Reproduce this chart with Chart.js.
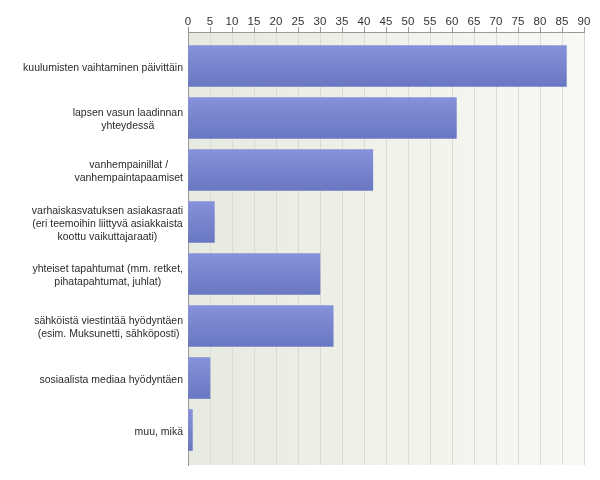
<!DOCTYPE html>
<html>
<head>
<meta charset="utf-8">
<script src="https://cdn.jsdelivr.net/npm/chart.js@4/dist/chart.umd.min.js"></script>
<style>
  html, body { margin: 0; padding: 0; background: #fff; }
  #wrap { width: 600px; height: 480px; }
</style>
</head>
<body>
<div id="wrap"><canvas id="answersChart"></canvas></div>
<script>
const categories = [
    ['kuulumisten vaihtaminen päivittäin'],
    ['lapsen vasun laadinnan', 'yhteydessä'],
    ['vanhempainillat /', 'vanhempaintapaamiset'],
    ['varhaiskasvatuksen asiakasraati', '(eri teemoihin liittyvä asiakkaista', 'koottu vaikuttajaraati)'],
    ['yhteiset tapahtumat (mm. retket,', 'pihatapahtumat, juhlat)'],
    ['sähköistä viestintää hyödyntäen', '(esim. Muksunetti, sähköposti)'],
    ['sosiaalista mediaa hyödyntäen'],
    ['muu, mikä']
];
const answers = [86, 61, 42, 6, 30, 33, 5, 1];
const xTicks = [0, 5, 10, 15, 20, 25, 30, 35, 40, 45, 50, 55, 60, 65, 70, 75, 80, 85, 90];

const FONT = '"Liberation Sans", Arial, sans-serif';

// taustan liukuväri piirtoalueelle
const plotBackground = {
    id: 'plotBackground',
    beforeDraw(chart) {
        const { ctx, chartArea: a } = chart;
        const g = ctx.createLinearGradient(a.left, 0, a.right, 0);
        g.addColorStop(0, '#e7eae0');
        g.addColorStop(1, '#f8f9f5');
        ctx.save();
        ctx.fillStyle = g;
        ctx.fillRect(a.left, a.top, a.right - a.left, a.bottom - a.top);
        ctx.restore();
    }
};

// kategorianimet keskitettyinä riveittäin, lohko oikealle tasattuna
const categoryLabels = {
    id: 'categoryLabels',
    afterDraw(chart) {
        const { ctx } = chart;
        const y = chart.scales.y;
        const right = chart.chartArea.left - 5;
        const lineH = 13;
        ctx.save();
        ctx.font = '10.5px ' + FONT;
        ctx.fillStyle = '#2b2b2b';
        ctx.textAlign = 'center';
        ctx.textBaseline = 'middle';
        categories.forEach((lines, i) => {
            const maxW = Math.max(...lines.map(l => ctx.measureText(l).width));
            const cx = right - maxW / 2;
            const cy = y.getPixelForValue(i) + 2;
            lines.forEach((l, j) => {
                ctx.fillText(l, cx, cy + (j - (lines.length - 1) / 2) * lineH);
            });
        });
        ctx.restore();
    }
};

function barGradient(context) {
    const chart = context.chart;
    const y = chart.scales.y;
    if (!chart.chartArea || !y) return '#7884cc';
    const cy = y.getPixelForValue(context.dataIndex);
    const g = chart.ctx.createLinearGradient(0, cy - 20, 0, cy + 20);
    g.addColorStop(0, '#8592d9');
    g.addColorStop(1, '#6a77c2');
    return g;
}

new Chart(document.getElementById('answersChart').getContext('2d'), {
    type: 'bar',
    data: {
        datasets: [{
            data: answers.map((v, i) => ({ x: v, y: i })),
            backgroundColor: barGradient,
            borderWidth: 0,
            barThickness: 41
        }]
    },
    options: {
        indexAxis: 'y',
        responsive: true,
        maintainAspectRatio: false,
        animation: false,
        layout: { padding: { left: 0, right: 16, top: 0, bottom: 15 } },
        plugins: {
            legend: { display: false },
            tooltip: { enabled: false }
        },
        scales: {
            x: {
                type: 'linear',
                position: 'top',
                min: 0,
                max: 90,
                afterBuildTicks: scale => { scale.ticks = xTicks.map(v => ({ value: v })); },
                afterFit: scale => { scale.height = 32; },
                ticks: {
                    font: { family: FONT, size: 11.5 },
                    color: '#333',
                    padding: -2
                },
                grid: {
                    color: '#d9dcd2',
                    tickColor: '#999',
                    tickLength: 5
                },
                border: { color: '#999' }
            },
            y: {
                type: 'linear',
                reverse: true,
                offset: false,
                bounds: 'data',
                afterDataLimits: scale => { scale.min = -0.654; scale.max = 7.673; },
                afterBuildTicks: scale => { scale.min = -0.654; scale.max = 7.673; },
                afterFit: scale => { scale.width = 188; },
                ticks: { display: false },
                grid: { display: false },
                border: { color: '#999' }
            }
        }
    },
    plugins: [plotBackground, categoryLabels]
});
</script>
</body>
</html>
